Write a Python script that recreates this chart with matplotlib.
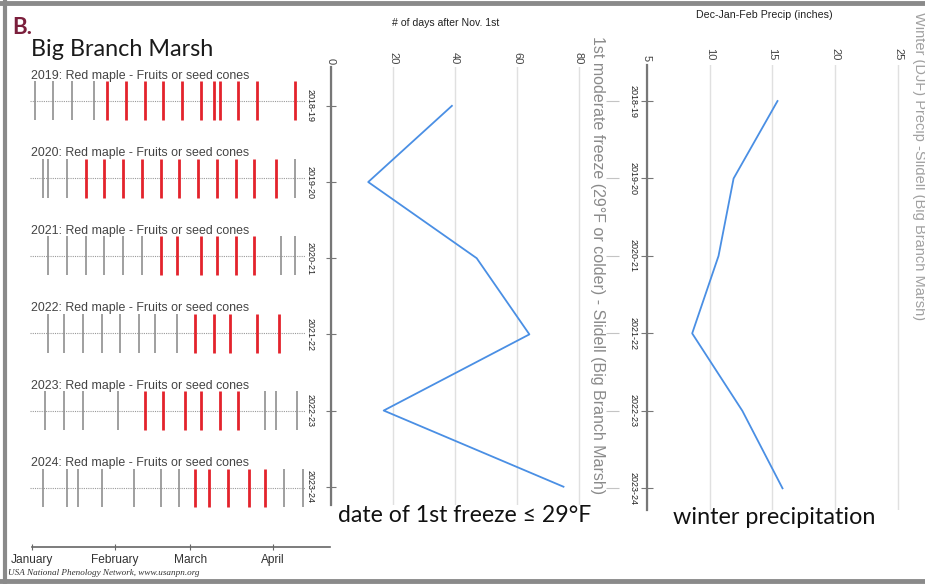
import matplotlib
matplotlib.use('Agg')
import matplotlib.pyplot as plt
from matplotlib.lines import Line2D

plt.rcParams['font.family'] = ['Liberation Sans', 'DejaVu Sans']

# phenology strips (day of year, 0 = Jan 1)
years = ['2019', '2020', '2021', '2022', '2023', '2024']
no_days = [
    [1, 8, 15, 23],
    [4, 6, 13, 98],
    [6, 13, 20, 27, 34, 41, 93, 98],
    [6, 12, 19, 26, 33, 40, 46, 54],
    [5, 12, 19, 32, 87, 91, 99],
    [4, 13, 17, 26, 38, 48, 55, 94, 101],
]
yes_days = [
    [28, 35, 42, 49, 56, 63, 68, 70, 77, 84, 98],
    [20, 27, 34, 41, 48, 55, 62, 69, 76, 83, 91],
    [48, 54, 63, 69, 76, 83],
    [61, 68, 74, 84, 92],
    [42, 49, 57, 63, 70, 77],
    [61, 66, 73, 81, 87],
]
month_days = [0, 31, 59, 90]
month_names = ['January', 'February', 'March', 'April']

# winters
seasons = ['2018-19', '2019-20', '2020-21', '2021-22', '2022-23', '2023-24']
freeze_days = [39, 12, 47, 64, 17, 75]
precip_in = [15.4, 11.9, 10.7, 8.6, 12.6, 15.8]

W, H = 925, 584


def box(x0, y0, x1, y1):
    return [x0 / W, 1 - y1 / H, (x1 - x0) / W, (y1 - y0) / H]


fig = plt.figure(figsize=(W / 100, H / 100), dpi=100)

# ---- phenology panel
ax = fig.add_axes(box(32, 62, 330, 547))
ax.set_xlim(0, 111.2)
ax.set_ylim(5.76, -0.50)
for i, yr in enumerate(years):
    ax.hlines(i, -0.7, 102, colors='#9a9a9a', linestyles=(0, (1, 1)), lw=0.8, clip_on=False)
    ax.vlines(no_days[i], i - 0.25, i + 0.25, colors='#8f8f8f', lw=1.2)
    ax.vlines(yes_days[i], i - 0.25, i + 0.25, colors='#e3232c', lw=2.0)
    ax.text(-0.5, i - 0.32, yr + ': Red maple - Fruits or seed cones',
            fontsize=8.9, color='#444444', va='center')
for s in ['top', 'left', 'right']:
    ax.spines[s].set_visible(False)
ax.spines['bottom'].set_color('#666666')
ax.spines['bottom'].set_linewidth(1.2)
ax.set_xticks(month_days)
ax.set_xticklabels(month_names, fontsize=8.6, color='#333333')
ax.tick_params(axis='x', direction='inout', length=4, color='#666666', pad=3)
ax.set_yticks([])

fig.text(8 / W, 1 - 573 / H, 'USA National Phenology Network, www.usanpn.org',
         family='Liberation Serif', style='italic', fontsize=6.6, va='center', color='#333333')
fig.text(12 / W, 1 - 28 / H, 'B.', family=['Lato', 'DejaVu Sans'], fontweight='bold',
         fontsize=16, color='#7b1f3c', va='center')
fig.text(31 / W, 1 - 49 / H, 'Big Branch Marsh', family=['Lato', 'DejaVu Sans'],
         fontsize=16.8, color='#1a1a1a', va='center')

# ---- first freeze panel
ax2 = fig.add_axes(box(331, 67, 592, 505))
ax2.plot(freeze_days, range(len(seasons)), color='#4a8fe4', lw=1.3)
ax2.set_xlim(0, 84.2)
ax2.set_ylim(5.24, -0.51)
ax2.set_xticks([0, 20, 40, 60, 80])
ax2.xaxis.tick_top()
ax2.tick_params(axis='x', length=0, labelsize=8, labelrotation=-90, pad=2, labelcolor='#444444')
ax2.grid(axis='x', color='#e0e0e0', lw=1)
ax2.set_yticks(range(len(seasons)))
ax2.set_yticklabels(seasons, rotation=-90, va='center', fontsize=6.5, color='#222222')
ax2.tick_params(axis='y', direction='inout', length=7, color='#777777', pad=8)
for s in ['top', 'right', 'bottom']:
    ax2.spines[s].set_visible(False)
ax2.spines['left'].set_color('#777777')
ax2.spines['left'].set_linewidth(1.6)
ax2.text(0.44, 1.10, '# of days after Nov. 1st', transform=ax2.transAxes,
         ha='center', va='center', fontsize=7.6, color='#222222')
fig.text(598 / W, 1 - 265 / H, '1st moderate freeze (29°F or colder) - Slidell (Big Branch Marsh)',
         rotation=-90, ha='center', va='center', fontsize=11.5, color='#8a8a8a')

# ---- winter precipitation panel
ax3 = fig.add_axes(box(647, 65, 905, 510))
ax3.plot(precip_in, range(len(seasons)), color='#4a8fe4', lw=1.3)
ax3.set_xlim(5, 25.56)
ax3.set_ylim(5.28, -0.465)
ax3.set_xticks([5, 10, 15, 20, 25])
ax3.xaxis.tick_top()
ax3.tick_params(axis='x', length=0, labelsize=8, labelrotation=-90, pad=3, labelcolor='#444444')
ax3.grid(axis='x', color='#e0e0e0', lw=1)
ax3.set_yticks(range(len(seasons)))
ax3.set_yticklabels(seasons, rotation=-90, va='center', fontsize=6.5, color='#222222')
ax3.tick_params(axis='y', direction='inout', length=8, color='#777777', pad=3)
for s in ['top', 'right', 'bottom']:
    ax3.spines[s].set_visible(False)
ax3.spines['left'].set_color('#777777')
ax3.spines['left'].set_linewidth(1.6)
ax3.hlines(range(len(seasons)), 1.7, 2.8, colors='#c4c4c4', lw=0.8, clip_on=False)
ax3.text(0.453, 1.112, 'Dec-Jan-Feb Precip (inches)', transform=ax3.transAxes,
         ha='center', va='center', fontsize=7.7, color='#222222')
fig.text(919 / W, 1 - 166 / H, 'Winter (DJF) Precip -Slidell (Big Branch Marsh)',
         rotation=-90, ha='center', va='center', fontsize=10.5, color='#a0a0a0')

# big captions
fig.text(338 / W, 1 - 515 / H, 'date of 1st freeze ≤ 29°F', family=['Lato', 'DejaVu Sans'],
         fontsize=16.6, color='#111111', va='center')
fig.text(673 / W, 1 - 517 / H, 'winter precipitation', family=['Lato', 'DejaVu Sans'],
         fontsize=16.8, color='#111111', va='center')

# frame
fig.add_artist(Line2D([0, 1], [1 - 3 / H, 1 - 3 / H], color='#8a8a8a', lw=3.5))
fig.add_artist(Line2D([5 / W, 5 / W], [0, 1], color='#8a8a8a', lw=3))
fig.add_artist(Line2D([0, 1], [1 - 581 / H, 1 - 581 / H], color='#8a8a8a', lw=3.5))

fig.savefig('out.png', dpi=100)
